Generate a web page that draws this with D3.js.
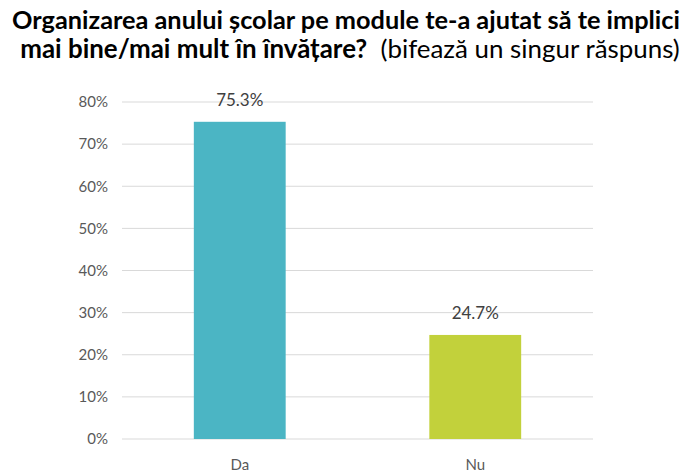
<!DOCTYPE html>
<html>
<head>
<meta charset="utf-8">
<script src="https://cdn.jsdelivr.net/npm/d3@7"></script>
<style>
  body { margin: 0; background: #fff; }
  text { font-family: Lato, "Open Sans", sans-serif; }
</style>
</head>
<body>
<svg id="chart"></svg>
<script>
// data
var categories = ["Da", "Nu"];
var values = [75.3, 24.7];
var barColors = ["#4BB5C4", "#C2D13B"];
var yTicks = [0, 10, 20, 30, 40, 50, 60, 70, 80];

var W = 689, H = 473;
var margin = {top: 102, right: 96, bottom: 34, left: 122};

var svg = d3.select("#chart").attr("width", W).attr("height", H);

var x = d3.scaleBand().domain(categories)
  .range([margin.left, W - margin.right])
  .paddingInner(0.61).paddingOuter(0.305);
var y = d3.scaleLinear().domain([0, 80]).range([H - margin.bottom, margin.top]);

// grid
svg.append("g").selectAll("line")
  .data(yTicks).enter().append("line")
  .attr("x1", margin.left).attr("x2", W - margin.right)
  .attr("y1", function(d) { return y(d); }).attr("y2", function(d) { return y(d); })
  .attr("stroke", "#D9D9D9").attr("stroke-width", 1);

// y axis labels
var yAxis = d3.axisLeft(y).tickValues(yTicks)
  .tickFormat(function(d) { return d + "%"; })
  .tickSize(0).tickPadding(14);
var gy = svg.append("g").attr("transform", "translate(" + margin.left + ",0)").call(yAxis);
gy.select(".domain").remove();
gy.selectAll("text").attr("fill", "#595959").style("font-size", "15px").style("font-family", "Lato, sans-serif");

// bars
svg.selectAll(".bar").data(values).enter().append("rect")
  .attr("class", "bar")
  .attr("x", function(d, i) { return x(categories[i]); })
  .attr("y", function(d) { return y(d); })
  .attr("width", x.bandwidth())
  .attr("height", function(d) { return y(0) - y(d); })
  .attr("fill", function(d, i) { return barColors[i]; });

// value labels
svg.selectAll(".val").data(values).enter().append("text")
  .attr("class", "val")
  .attr("x", function(d, i) { return x(categories[i]) + x.bandwidth() / 2; })
  .attr("y", function(d) { return y(d) - 16; })
  .attr("text-anchor", "middle")
  .attr("fill", "#404040").style("font-size", "17px")
  .text(function(d) { return d.toFixed(1) + "%"; });

// x axis labels
var xAxis = d3.axisBottom(x).tickSize(0).tickPadding(20);
var gx = svg.append("g").attr("transform", "translate(0," + y(0) + ")").call(xAxis);
gx.select(".domain").remove();
gx.selectAll("text").attr("fill", "#595959").style("font-size", "15px").style("font-family", "Lato, sans-serif");

// title
var t1 = svg.append("text")
  .attr("x", 346).attr("y", 29).attr("text-anchor", "middle")
  .attr("fill", "#000").style("font-weight", "bold").style("font-size", "20px")
  .text("Organizarea anului școlar pe module te-a ajutat să te implici");
var t2 = svg.append("text")
  .attr("x", 350).attr("y", 58).attr("text-anchor", "middle")
  .attr("fill", "#000").style("font-size", "20px");
t2.append("tspan").style("font-weight", "bold").text("mai bine/mai mult în învățare?");
t2.append("tspan").attr("xml:space", "preserve").text("\u00a0\u00a0(bifează un singur răspuns)");

// fit title widths to the reference
function fit(node, target) {
  var len = node.node().getComputedTextLength();
  var fs = parseFloat(node.style("font-size"));
  node.style("font-size", (fs * target / len) + "px");
}
fit(t1, 668);
fit(t2, 660);
</script>
</body>
</html>
